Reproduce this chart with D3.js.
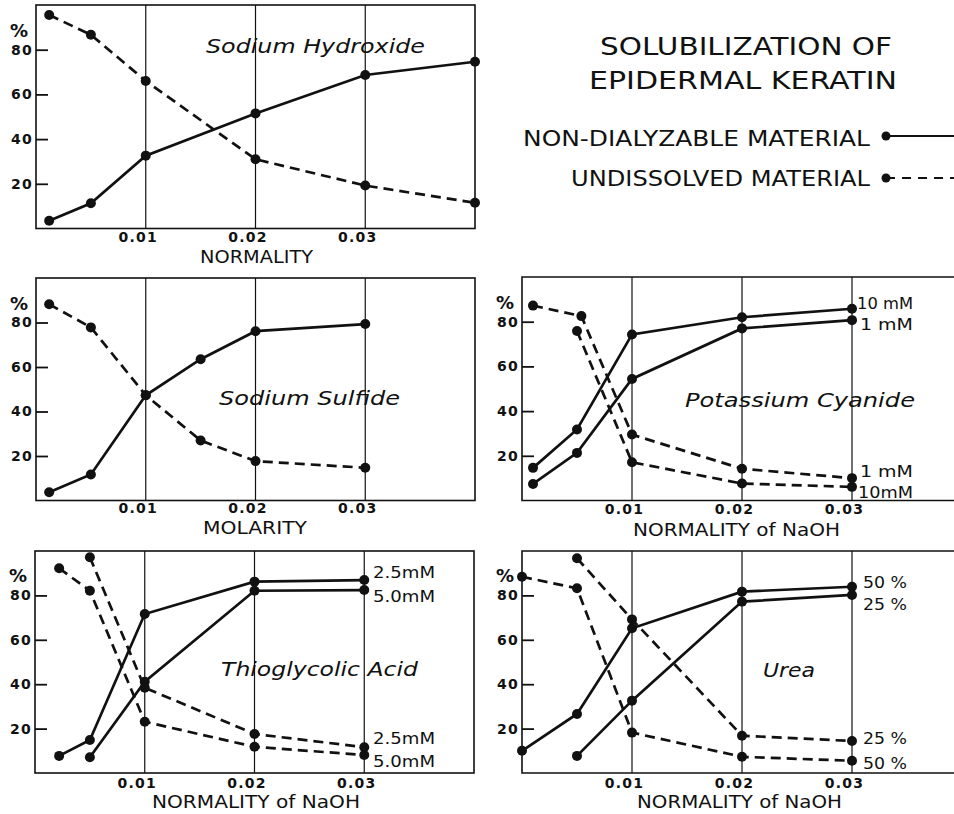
<!DOCTYPE html>
<html><head><meta charset="utf-8">
<script src="https://cdn.jsdelivr.net/npm/d3@7/dist/d3.min.js"></script>
<style>
html,body{margin:0;padding:0;background:#fff;}
svg{display:block;}
text{font-family:"DejaVu Sans",sans-serif;fill:#111;}
</style></head>
<body>
<script>
// ---------- DATA ----------
const yTicks = [20, 40, 60, 80];
const xTicks = [0.01, 0.02, 0.03];
const xTickLabels = ["0.01", "0.02", "0.03"];

// Sodium Hydroxide
const naohX = [0.0012, 0.005, 0.01, 0.02, 0.03, 0.04];
const naohNonDial = [3.5, 11.3, 32.6, 51.5, 68.7, 74.6];
const naohUndiss = [95.5, 86.7, 66, 31, 19.2, 11.5];

// Sodium Sulfide
const sulfX = [0.0012, 0.005, 0.01, 0.015, 0.02, 0.03];
const sulfNonDial = [3.7, 11.7, 47.3, 63.5, 76.1, 79.3];
const sulfUndiss = [88.2, 77.8, 47.3, 27, 17.7, 14.7];

// Potassium Cyanide
const kcnX = [0.001, 0.005, 0.01, 0.02, 0.03];
const kcnNonDial10 = [14.6, 31.8, 74.3, 82, 85.8];
const kcnNonDial1 = [7.4, 21.3, 54.4, 77, 80.7];
const kcnUndiss1X = [0.001, 0.0054, 0.01, 0.02, 0.03];
const kcnUndiss1 = [87.2, 82.5, 29.5, 14.2, 10];
const kcnUndiss10X = [0.005, 0.01, 0.02, 0.03];
const kcnUndiss10 = [75.8, 17.1, 7.6, 6.1];

// Thioglycolic Acid
const thioX25 = [0.0022, 0.005, 0.01, 0.02, 0.03];
const thioNonDial25 = [7.7, 14.9, 71.6, 86.2, 86.9];
const thioX50 = [0.005, 0.01, 0.02, 0.03];
const thioNonDial50 = [7.1, 41.1, 82.1, 82.4];
const thioUndiss50X = [0.0022, 0.005, 0.01, 0.02, 0.03];
const thioUndiss50 = [92.2, 82.1, 23.1, 11.8, 8.1];
const thioUndiss25X = [0.005, 0.01, 0.02, 0.03];
const thioUndiss25 = [97.2, 38.4, 17.6, 11.6];

// Urea
const ureaX50 = [0, 0.005, 0.01, 0.02, 0.03];
const ureaNonDial50 = [10, 26.6, 65.2, 81.7, 83.9];
const ureaX25 = [0.005, 0.01, 0.02, 0.03];
const ureaNonDial25 = [7.7, 32.6, 77.2, 80.2];
const ureaUndiss50X = [0, 0.005, 0.01, 0.02, 0.03];
const ureaUndiss50 = [88.4, 83.2, 18.2, 7.3, 5.5];
const ureaUndiss25X = [0.005, 0.01, 0.02, 0.03];
const ureaUndiss25 = [96.7, 69.2, 16.8, 14.4];

// ---------- LAYOUT ----------
const panels = [
  {left:36, right:475, top:5, bottom:228.5, closed:true,
   name:"Sodium Hydroxide", nameX:206, nameW:219, nameY:53,
   xTitle:"NORMALITY", xTitleX:200, xTitleW:113, xTitleY:263, tickY:242,
   series:[{x:naohX,y:naohNonDial,d:false},{x:naohX,y:naohUndiss,d:true}], notes:[]},
  {left:36, right:475, top:278, bottom:500.5, closed:true,
   name:"Sodium Sulfide", nameX:219, nameW:181, nameY:405,
   xTitle:"MOLARITY", xTitleX:203, xTitleW:104, xTitleY:534, tickY:513,
   series:[{x:sulfX,y:sulfNonDial,d:false},{x:sulfX,y:sulfUndiss,d:true}], notes:[]},
  {left:522, right:962, top:277, bottom:500.5, closed:false,
   name:"Potassium Cyanide", nameX:685, nameW:230, nameY:407,
   xTitle:"NORMALITY of NaOH", xTitleX:633, xTitleW:207, xTitleY:536, tickY:514,
   series:[{x:kcnX,y:kcnNonDial10,d:false},{x:kcnX,y:kcnNonDial1,d:false},
           {x:kcnUndiss1X,y:kcnUndiss1,d:true},{x:kcnUndiss10X,y:kcnUndiss10,d:true}],
   notes:[{t:"10 mM",x:857,y:309,w:56},{t:"1  mM",x:860,y:330,w:53},
          {t:"1  mM",x:860,y:477,w:53},{t:"10mM",x:858,y:498,w:55}]},
  {left:35, right:474, top:551, bottom:773, closed:true,
   name:"Thioglycolic Acid", nameX:221, nameW:197, nameY:676,
   xTitle:"NORMALITY of NaOH", xTitleX:152, xTitleW:208, xTitleY:808, tickY:787.5,
   series:[{x:thioX25,y:thioNonDial25,d:false},{x:thioX50,y:thioNonDial50,d:false},
           {x:thioUndiss50X,y:thioUndiss50,d:true},{x:thioUndiss25X,y:thioUndiss25,d:true}],
   notes:[{t:"2.5mM",x:373,y:578,w:62},{t:"5.0mM",x:373,y:602,w:62},
          {t:"2.5mM",x:373,y:744,w:62},{t:"5.0mM",x:373,y:767,w:62}]},
  {left:522, right:962, top:551, bottom:773, closed:false,
   name:"Urea", nameX:763, nameW:52, nameY:677,
   xTitle:"NORMALITY of NaOH", xTitleX:637, xTitleW:205, xTitleY:808, tickY:787.5,
   series:[{x:ureaX50,y:ureaNonDial50,d:false},{x:ureaX25,y:ureaNonDial25,d:false},
           {x:ureaUndiss50X,y:ureaUndiss50,d:true},{x:ureaUndiss25X,y:ureaUndiss25,d:true}],
   notes:[{t:"50 %",x:863,y:588,w:44},{t:"25 %",x:863,y:610,w:44},
          {t:"25 %",x:863,y:744,w:44},{t:"50 %",x:863,y:769,w:44}]}
];

const svg = d3.select("body").append("svg").attr("width",954).attr("height",814);
const ink = "#111";

function fitText(g, txt, x, y, w, size, opts={}) {
  const t = g.append("text").attr("x",x).attr("y",y).text(txt)
    .style("font-size", size+"px");
  if (w) t.attr("textLength", w).attr("lengthAdjust","spacingAndGlyphs");
  if (opts.italic) t.style("font-style","oblique");
  if (opts.bold) t.style("font-weight","bold");
  if (opts.anchor) t.attr("text-anchor", opts.anchor);
  return t;
}

panels.forEach(p => {
  const g = svg.append("g");
  const x = d3.scaleLinear().domain([0,0.04]).range([p.left,p.right]);
  const y = d3.scaleLinear().domain([0,100]).range([p.bottom,p.top]);

  // grid lines
  g.selectAll(".grid").data(xTicks).join("line")
    .attr("x1",d=>x(d)).attr("x2",d=>x(d)).attr("y1",p.top).attr("y2",p.bottom)
    .attr("stroke",ink).attr("stroke-width",1.2);

  // frame
  if (p.closed) {
    g.append("rect").attr("x",p.left).attr("y",p.top)
      .attr("width",p.right-p.left).attr("height",p.bottom-p.top)
      .attr("fill","none").attr("stroke",ink).attr("stroke-width",1.6);
  } else {
    g.append("path").attr("d",`M${p.right},${p.top}H${p.left}V${p.bottom}H${p.right}`)
      .attr("fill","none").attr("stroke",ink).attr("stroke-width",1.6);
  }

  // y axis ticks (inward) and labels
  const yAxis = d3.axisLeft(y).tickValues(yTicks).tickSize(-12).tickPadding(16)
    .tickFormat(d3.format("d"));
  const ya = g.append("g").attr("transform",`translate(${p.left},0)`).call(yAxis);
  ya.select(".domain").remove();
  ya.selectAll(".tick line").attr("stroke",ink).attr("stroke-width",1.8);
  ya.selectAll(".tick text").style("font-size","14px").style("font-weight","bold")
    .style("letter-spacing","1.2px").attr("fill",ink).attr("x",-3);
  g.append("text").attr("x",p.left-17).attr("y",y(80)-13).attr("text-anchor","middle")
    .style("font-size","18px").style("font-weight","bold").text("%");

  // x tick labels
  const xAxis = d3.axisBottom(x).tickValues(xTicks).tickSize(0)
    .tickFormat((d,i)=>xTickLabels[i]);
  const xa = g.append("g").attr("transform",`translate(-8,${p.tickY-11})`).call(xAxis);
  xa.select(".domain").remove();
  xa.selectAll(".tick text").style("font-size","14px").style("font-weight","bold")
    .style("letter-spacing","1.2px").attr("fill",ink).attr("dy","0");
  xa.selectAll(".tick text").attr("y",11);

  // x title
  fitText(g, p.xTitle, p.xTitleX, p.xTitleY, p.xTitleW, 18);
  // panel name
  fitText(g, p.name, p.nameX, p.nameY, p.nameW, 19, {italic:true});

  // series
  const line = d3.line().x(d=>x(d[0])).y(d=>y(d[1]));
  p.series.forEach(s => {
    const pts = s.x.map((v,i)=>[v,s.y[i]]);
    g.append("path").attr("d",line(pts)).attr("fill","none")
      .attr("stroke",ink).attr("stroke-width",2.7)
      .attr("stroke-dasharray", s.d ? "10,6" : null);
    g.selectAll(null).data(pts).join("circle")
      .attr("cx",d=>x(d[0])).attr("cy",d=>y(d[1])).attr("r",5).attr("fill",ink);
  });

  // right-side notes
  p.notes.forEach(n => fitText(g, n.t, n.x, n.y, n.w, 15));
});

// ---------- TITLE & LEGEND ----------
const tg = svg.append("g");
fitText(tg, "SOLUBILIZATION OF", 600, 55, 292, 24.5);
fitText(tg, "EPIDERMAL KERATIN", 589, 89, 308, 24.5);
fitText(tg, "NON-DIALYZABLE MATERIAL", 523, 146, 347, 21);
fitText(tg, "UNDISSOLVED MATERIAL", 571, 186, 299, 21);
const legendRows = [{y:136, dashed:false},{y:178, dashed:true}];
legendRows.forEach(r => {
  tg.append("line").attr("x1",886).attr("x2",954).attr("y1",r.y).attr("y2",r.y)
    .attr("stroke",ink).attr("stroke-width",2.2)
    .attr("stroke-dasharray", r.dashed ? "9,7" : null);
  tg.append("circle").attr("cx",886).attr("cy",r.y).attr("r",4.5).attr("fill",ink);
});
</script>
</body></html>
